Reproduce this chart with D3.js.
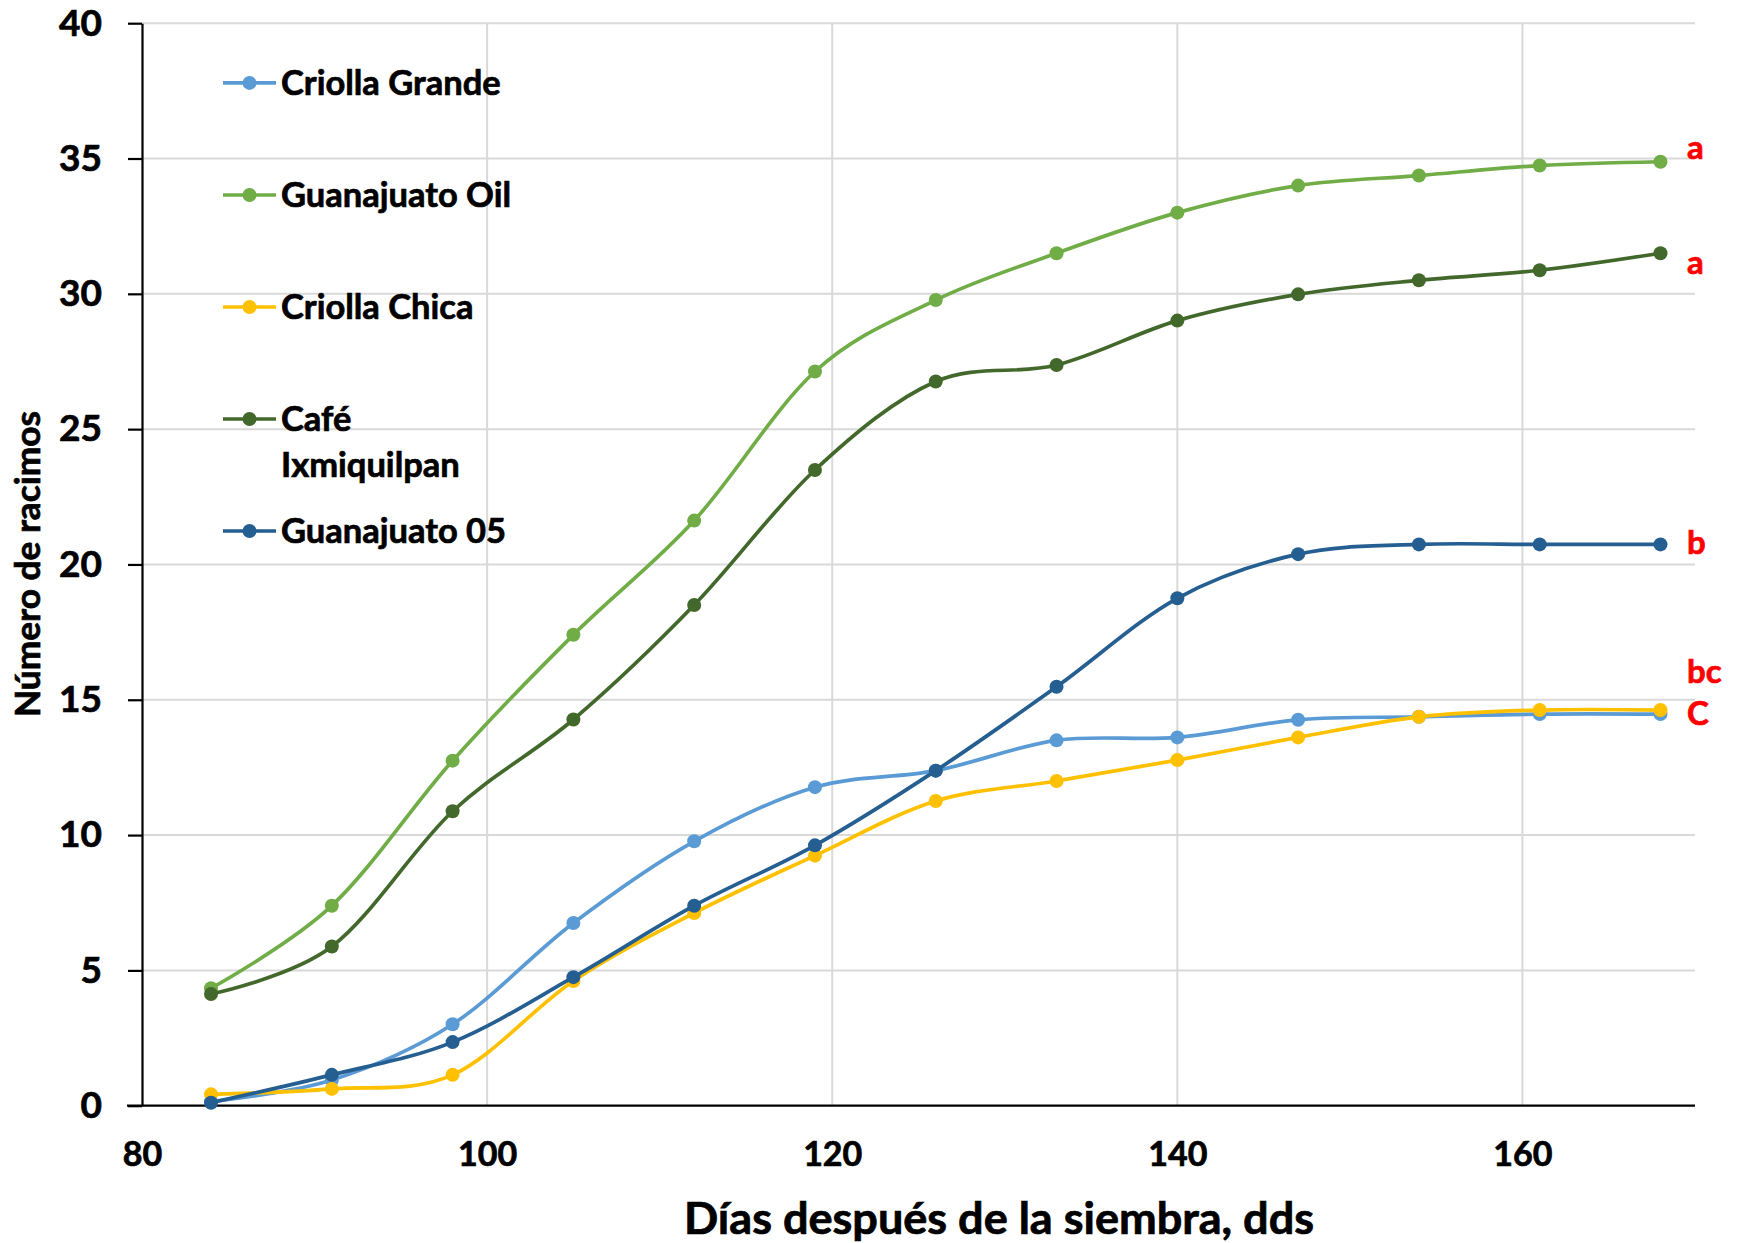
<!DOCTYPE html>
<html>
<head>
<meta charset="utf-8">
<script src="https://cdn.jsdelivr.net/npm/d3@7"></script>
<style>
  html, body { margin: 0; padding: 0; background: #fff; }
  svg text { font-family: Lato, "Open Sans", sans-serif; font-weight: bold; }
</style>
</head>
<body>
<div id="chart"></div>
<script>
// days after sowing
const days = [84, 91, 98, 105, 112, 119, 126, 133, 140, 147, 154, 161, 168];

// number of clusters per variety
const criollaGrande   = [0.15, 0.95, 3.01, 6.75, 9.77, 11.77, 12.38, 13.5, 13.61, 14.26, 14.37, 14.47, 14.47];
const guanajuatoOil   = [4.34, 7.39, 12.75, 17.4, 21.62, 27.13, 29.77, 31.5, 33.0, 34.0, 34.37, 34.74, 34.88];
const criollaChica    = [0.42, 0.62, 1.14, 4.61, 7.12, 9.24, 11.26, 12.0, 12.77, 13.61, 14.37, 14.62, 14.62];
const cafeIxmiquilpan = [4.13, 5.88, 10.88, 14.27, 18.5, 23.49, 26.76, 27.37, 29.01, 29.98, 30.5, 30.87, 31.5];
const guanajuato05    = [0.11, 1.14, 2.35, 4.75, 7.39, 9.62, 12.38, 15.48, 18.75, 20.38, 20.74, 20.74, 20.74];

const seriesNames  = [["Criolla Grande"], ["Guanajuato Oil"], ["Criolla Chica"], ["Café", "Ixmiquilpan"], ["Guanajuato 05"]];
const seriesColors = ["#5B9BD5", "#70AD47", "#FFC000", "#43682B", "#255E91"];
const seriesValues = [criollaGrande, guanajuatoOil, criollaChica, cafeIxmiquilpan, guanajuato05];

// significance letters at the end of each line
const sigLetters = ["a", "a", "b", "bc", "C"];
const sigLevels  = [35.4, 31.15, 20.8, 16.05, 14.48];

const xTicks = [80, 100, 120, 140, 160];
const yTicks = [0, 5, 10, 15, 20, 25, 30, 35, 40];

const width = 1739, height = 1243;
const svg = d3.select("#chart").append("svg")
  .attr("width", width)
  .attr("height", height);

svg.append("rect").attr("width", width).attr("height", height).attr("fill", "#fff");

const x = d3.scaleLinear().domain([80, 170]).range([142, 1695]);
const y = d3.scaleLinear().domain([0, 40]).range([1105.7, 23.2]);

// heavier look, closer to the original bold face
function heavy(sel, color) {
  sel.style("stroke", color || "#000").style("stroke-width", 0.7).style("paint-order", "stroke");
}

// grid
svg.append("g").selectAll("line")
  .data(yTicks.filter(d => d > 0))
  .enter().append("line")
  .attr("x1", x(80)).attr("x2", x(170))
  .attr("y1", d => y(d)).attr("y2", d => y(d))
  .style("stroke", "#D9D9D9").style("stroke-width", 2);

svg.append("g").selectAll("line")
  .data(xTicks.filter(d => d > 80))
  .enter().append("line")
  .attr("x1", d => x(d)).attr("x2", d => x(d))
  .attr("y1", y(0)).attr("y2", y(40))
  .style("stroke", "#D9D9D9").style("stroke-width", 2);

// y axis
const yAxis = svg.append("g")
  .attr("transform", `translate(${x(80)},0)`)
  .call(d3.axisLeft(y).tickValues(yTicks).tickSize(14).tickPadding(26).tickSizeOuter(0));
yAxis.select(".domain").style("stroke", "#000").style("stroke-width", 2.2);
yAxis.selectAll(".tick line").style("stroke", "#000").style("stroke-width", 2.2);
yAxis.selectAll(".tick text")
  .attr("x", -40)
  .style("font-size", "37px").style("fill", "#000")
  .style("font-family", "Lato, sans-serif")
  .call(heavy);

// x axis
const xAxis = svg.append("g")
  .attr("transform", `translate(0,${y(0)})`)
  .call(d3.axisBottom(x).tickValues(xTicks).tickSize(0).tickPadding(36).tickSizeOuter(0));
xAxis.select(".domain").remove();
xAxis.append("line")
  .attr("x1", 127).attr("x2", x(170))
  .style("stroke", "#000").style("stroke-width", 2.2);
xAxis.selectAll(".tick text")
  .style("font-size", "34px").style("fill", "#000")
  .style("font-family", "Lato, sans-serif")
  .call(heavy);

// axis titles
svg.append("text")
  .attr("x", 999).attr("y", 1234)
  .attr("text-anchor", "middle")
  .style("font-size", "43px")
  .attr("textLength", 630)
  .attr("lengthAdjust", "spacingAndGlyphs")
  .text("Días después de la siembra, dds")
  .call(heavy);

svg.append("text")
  .attr("transform", "translate(40,564) rotate(-90)")
  .attr("text-anchor", "middle")
  .style("font-size", "34px")
  .attr("textLength", 306)
  .attr("lengthAdjust", "spacingAndGlyphs")
  .text("Número de racimos")
  .call(heavy);

// lines + markers
const line = d3.line()
  .x((d, i) => x(days[i]))
  .y(d => y(d))
  .curve(d3.curveCatmullRom.alpha(0));

seriesValues.forEach((vals, s) => {
  const g = svg.append("g");
  g.append("path")
    .datum(vals)
    .attr("d", line)
    .style("fill", "none")
    .style("stroke", seriesColors[s])
    .style("stroke-width", 3.7);
  g.selectAll("circle")
    .data(vals)
    .enter().append("circle")
    .attr("cx", (d, i) => x(days[i]))
    .attr("cy", d => y(d))
    .attr("r", 7)
    .style("fill", seriesColors[s]);
});

// significance letters
svg.append("g").selectAll("text")
  .data(sigLetters)
  .enter().append("text")
  .attr("x", 1687)
  .attr("y", (d, i) => y(sigLevels[i]))
  .attr("dy", "0.35em")
  .style("font-size", "33px")
  .style("fill", "#FF0000")
  .text(d => d)
  .call(heavy, "#FF0000");

// legend
const legendY = [82.9, 195, 307, 419, 531];
const legend = svg.append("g");
seriesNames.forEach((lines, s) => {
  const ly = legendY[s];
  legend.append("line")
    .attr("x1", 223).attr("x2", 276)
    .attr("y1", ly).attr("y2", ly)
    .style("stroke", seriesColors[s]).style("stroke-width", 3.7);
  legend.append("circle")
    .attr("cx", 249.5).attr("cy", ly).attr("r", 7)
    .style("fill", seriesColors[s]);
  lines.forEach((t, k) => {
    legend.append("text")
      .attr("x", 281).attr("y", ly + k * 46)
      .attr("dy", "0.35em")
      .style("font-size", "34.5px")
      .text(t)
      .call(heavy);
  });
});
</script>
</body>
</html>
